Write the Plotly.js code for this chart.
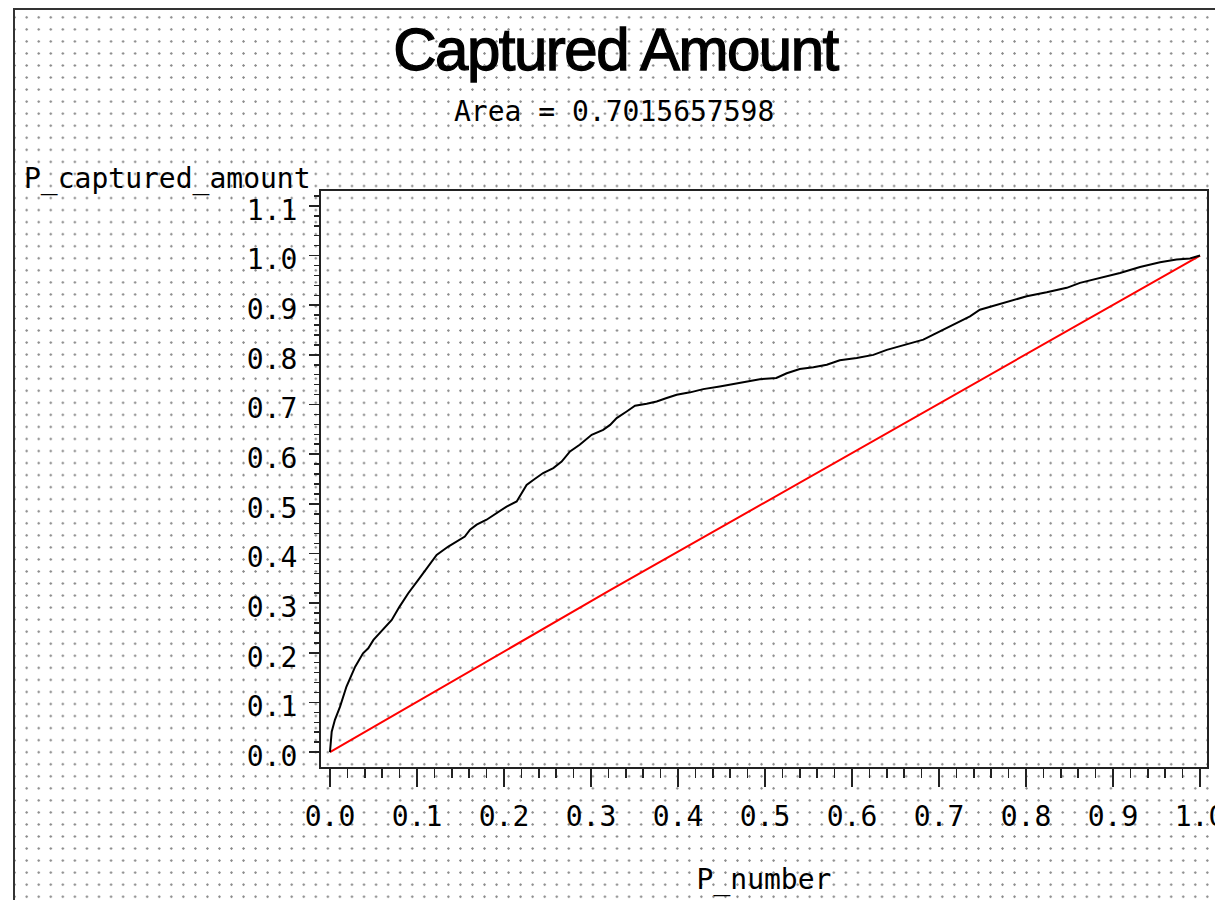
<!DOCTYPE html>
<html>
<head>
<meta charset="utf-8">
<script src="https://cdn.plot.ly/plotly-3.0.1.min.js"></script>
<style>
  html, body { margin:0; padding:0; background:#fff; }
  #wrap { position:relative; width:1215px; height:900px; overflow:hidden; }
  #dots { position:absolute; left:15px; top:10px; width:1200px; height:890px;
          background-image: radial-gradient(circle, #8a8a8a 0.9px, rgba(255,255,255,0) 1.4px);
          background-size: 12.05px 12.05px; background-position: 5.7px 1.3px; }
  #frame { position:absolute; left:13px; top:8px; width:1210px; height:900px;
           border-left:2px solid #333; border-top:2px solid #333; }
  #chart { position:absolute; left:0; top:0; width:1215px; height:900px; }
  .gtitle { letter-spacing:-1.5px; stroke:#000; stroke-width:1.3px; }
</style>
</head>
<body>
<div id="wrap">
  <div id="dots"></div>
  <div id="frame"></div>
  <div id="chart"></div>
</div>
<script>
// Captured amount curve
const pNumber = [0, 0.002, 0.0057, 0.0115, 0.019, 0.029, 0.038, 0.044, 0.050, 0.061, 0.071, 0.080, 0.090,
  0.1015, 0.111, 0.1226, 0.136, 0.1456, 0.155, 0.161, 0.1686, 0.180, 0.1916, 0.203, 0.2146, 0.220, 0.226,
  0.2337, 0.245, 0.2567, 0.2663, 0.2759, 0.287, 0.3008, 0.314, 0.322, 0.3295, 0.341, 0.3506, 0.364, 0.3755,
  0.387, 0.3985, 0.414, 0.429, 0.448, 0.4675, 0.4828, 0.494, 0.513, 0.525, 0.540, 0.5556, 0.571, 0.586,
  0.6054, 0.6245, 0.640, 0.655, 0.6705, 0.682, 0.6935, 0.7088, 0.724, 0.7356, 0.747, 0.7625, 0.7778, 0.8008,
  0.8238, 0.8468, 0.862, 0.885, 0.908, 0.931, 0.954, 0.973, 0.9885, 1.0];
const pCapturedAmount = [0, 0.041, 0.065, 0.091, 0.132, 0.172, 0.199, 0.209, 0.226, 0.246, 0.266, 0.293, 0.320,
  0.347, 0.370, 0.397, 0.414, 0.424, 0.434, 0.448, 0.458, 0.468, 0.481, 0.4945, 0.5047, 0.5215, 0.538,
  0.548, 0.562, 0.572, 0.585, 0.6055, 0.619, 0.639, 0.649, 0.659, 0.6727, 0.686, 0.6976, 0.7016, 0.706,
  0.713, 0.7198, 0.7245, 0.731, 0.7365, 0.742, 0.7466, 0.751, 0.7534, 0.763, 0.7716, 0.775, 0.780, 0.789,
  0.7937, 0.800, 0.810, 0.817, 0.825, 0.8306, 0.8407, 0.854, 0.866, 0.8777, 0.891, 0.899, 0.906, 0.918,
  0.926, 0.935, 0.945, 0.955, 0.965, 0.977, 0.9865, 0.992, 0.994, 1.0];
// Random baseline (diagonal)
const baseX = [0, 0.322, 1];
const baseY = [0, 0.326, 1];

const titleText = 'Captured Amount';
const subtitleText = 'Area = 0.7015657598';
const xTitle = 'P_number';
const yTitle = 'P_captured_amount';

// minor tick values on the y axis (0.00 .. 1.12 every 0.02)
const yMinorTicks = [];
for (let i = 0; i <= 56; i++) yMinorTicks.push(+(i * 0.02).toFixed(2));

const monoFont = { family: 'DejaVu Sans Mono, Liberation Mono, monospace', size: 28, color: '#000' };

const traces = [
  { x: baseX, y: baseY, mode: 'lines', line: { color: '#ff0000', width: 2 }, hoverinfo: 'skip' },
  { x: pNumber, y: pCapturedAmount, mode: 'lines', line: { color: '#000000', width: 2 }, hoverinfo: 'skip' }
];

const layout = {
  width: 1215, height: 900,
  margin: { l: 321, r: 8, t: 191, b: 133, pad: 0 },
  paper_bgcolor: 'rgba(0,0,0,0)', plot_bgcolor: 'rgba(0,0,0,0)',
  showlegend: false,
  title: {
    text: titleText,
    font: { family: 'Liberation Sans, Arial, sans-serif', size: 60, color: '#000' },
    xref: 'container', yref: 'container',
    x: 615.5 / 1215, xanchor: 'center',
    y: 1 - 28 / 900, yanchor: 'top'
  },
  xaxis: {
    range: [-0.0103, 1.008],
    showline: true, mirror: true, linecolor: '#222', linewidth: 2,
    showgrid: false, zeroline: false,
    ticks: 'outside', ticklen: 18, tickwidth: 1.5, tickcolor: '#222',
    tick0: 0, dtick: 0.1, tickformat: '.1f',
    minor: { ticks: 'outside', ticklen: 9, tickwidth: 1.5, tickcolor: '#222', tick0: 0, dtick: 0.02, showgrid: false },
    tickfont: monoFont, ticklabelstandoff: 5, ticklabeloverflow: 'allow',
    title: { text: xTitle, font: monoFont, standoff: 38 },
    fixedrange: true
  },
  yaxis: {
    range: [-0.030, 1.130],
    showline: true, mirror: true, linecolor: '#222', linewidth: 2,
    showgrid: false, zeroline: false,
    ticks: 'outside', ticklen: 10, tickwidth: 1.5, tickcolor: '#222',
    tick0: 0, dtick: 0.1, tickformat: '.1f',
    minor: { ticks: 'outside', ticklen: 5, tickwidth: 1.5, tickcolor: '#222', tickmode: 'array', tickvals: yMinorTicks, showgrid: false },
    tickfont: monoFont, ticklabelstandoff: 6, ticklabelshift: 4, ticklabeloverflow: 'allow',
    fixedrange: true
  },
  annotations: [
    { text: subtitleText, xref: 'paper', yref: 'paper', x: (614 - 321) / 886, y: 1 + (191 - 111.5) / 576,
      xanchor: 'center', yanchor: 'middle', showarrow: false, font: monoFont },
    { text: yTitle, xref: 'paper', yref: 'paper', x: (22 - 321) / 886, y: 1 + (191 - 179) / 576,
      xanchor: 'left', yanchor: 'middle', showarrow: false, font: monoFont }
  ]
};

Plotly.newPlot('chart', traces, layout, { displayModeBar: false, staticPlot: true });
</script>
</body>
</html>
